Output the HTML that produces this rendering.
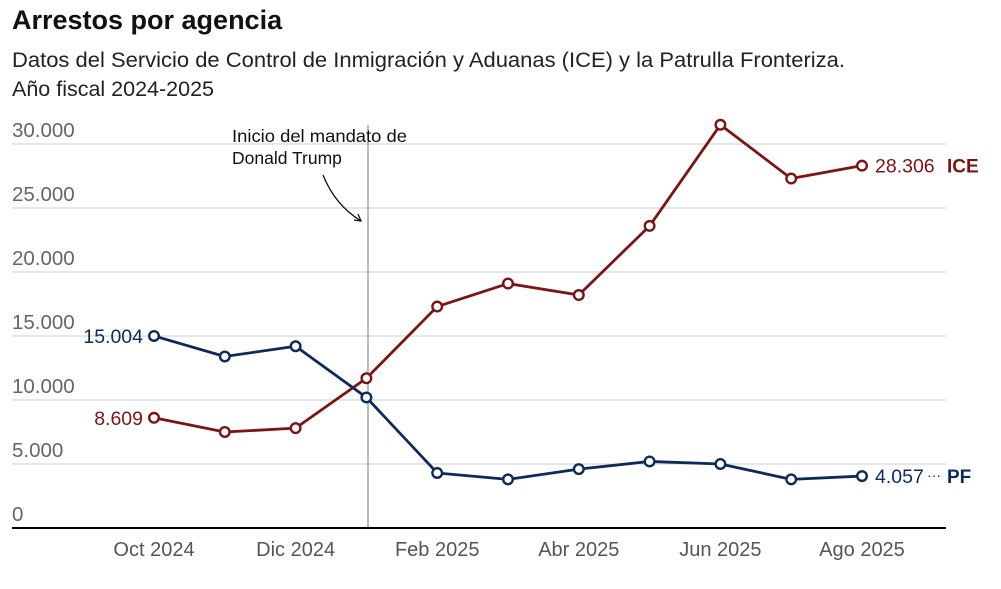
<!DOCTYPE html>
<html><head><meta charset="utf-8"><style>
body{margin:0;background:#fff;font-family:"Liberation Sans",sans-serif}
</style></head><body>
<svg width="1001" height="584" viewBox="0 0 1001 584" id="chart">
<text x="12" y="29" font-size="27" font-weight="bold" fill="#111">Arrestos por agencia</text>
<text x="12" y="67" font-size="21.5" fill="#222" textLength="833" lengthAdjust="spacingAndGlyphs">Datos del Servicio de Control de Inmigración y Aduanas (ICE) y la Patrulla Fronteriza.</text>
<text x="12" y="96" font-size="21.5" fill="#222">Año fiscal 2024-2025</text>
<g id="grid"></g>
<line x1="368" y1="125" x2="368" y2="528" stroke="#777" stroke-width="1"/>
<text x="232" y="142" font-size="17.5" fill="#111" textLength="175" lengthAdjust="spacingAndGlyphs">Inicio del mandato de</text>
<text x="232" y="164" font-size="17.5" fill="#111">Donald Trump</text>
<path d="M323,175 Q335,205 361,221 M354,220 L361,221 L358,214" fill="none" stroke="#111" stroke-width="1.3"/>
<g id="series"></g>
<line x1="12" y1="528" x2="946" y2="528" stroke="#000" stroke-width="2"/>
</svg>
<script>
const months=["Oct 2024","Nov 2024","Dic 2024","Ene 2025","Feb 2025","Mar 2025","Abr 2025","May 2025","Jun 2025","Jul 2025","Ago 2025"];
const iceValues=[8609,7500,7800,11700,17300,19100,18200,23600,31500,27300,28306];
const pfValues=[15004,13400,14200,10200,4300,3800,4600,5200,5000,3800,4057];
const yTicks=[0,5000,10000,15000,20000,25000,30000];
const yTickLabels=["0","5.000","10.000","15.000","20.000","25.000","30.000"];
const xTickLabels=["Oct 2024","Dic 2024","Feb 2025","Abr 2025","Jun 2025","Ago 2025"];
const NS="http://www.w3.org/2000/svg";
const x=i=>154+i*70.8;
const y=v=>528-v*(64/5000);
function mk(tag,attrs,parent,text){const e=document.createElementNS(NS,tag);for(const k in attrs)e.setAttribute(k,attrs[k]);if(text!=null)e.textContent=text;parent.appendChild(e);return e;}
const grid=document.getElementById('grid');
yTicks.forEach((t,i)=>{
 if(t>0){const l=mk('line',{x1:12,x2:946,y1:y(t),y2:y(t),stroke:'#ccc','stroke-width':1},grid);
 
 }
 const tx=mk('text',{x:12,y:y(t)-7,'font-size':20.5,fill:'#666'},grid,yTickLabels[i]);
 
 
});
xTickLabels.forEach(lbl=>{
 const i=months.indexOf(lbl);
 const tx=mk('text',{x:x(i),y:556,'font-size':20,fill:'#555','text-anchor':'middle'},grid,lbl);
 
 
});
const s=document.getElementById('series');
function series(vals,color,name){
 const p=mk('polyline',{points:vals.map((v,i)=>x(i)+','+y(v)).join(' '),fill:'none',stroke:color,'stroke-width':2.8,'stroke-linejoin':'round'},s);
 
 
 vals.forEach((v,i)=>{const c=mk('circle',{cx:x(i),cy:y(v),r:4.8,fill:'#fff',stroke:color,'stroke-width':2.4},s);
 
 });
}
series(iceValues,'#7d1414','ice');
series(pfValues,'#0d2a5c','pf');
const fmt=v=>v.toLocaleString('de-DE');
const n=months.length-1;
let t;
t=mk('text',{x:143,y:y(pfValues[0])+7,'font-size':19.5,fill:'#0d2a5c','text-anchor':'end'},s,fmt(pfValues[0]));


t=mk('text',{x:143,y:y(iceValues[0])+7,'font-size':19.5,fill:'#7d1414','text-anchor':'end'},s,fmt(iceValues[0]));


t=mk('text',{x:x(n)+13,y:y(iceValues[n])+7,'font-size':19.5,fill:'#7d1414'},s,fmt(iceValues[n]));


t=mk('text',{x:947,y:y(iceValues[n])+7,'font-size':19,'font-weight':'bold',fill:'#7d1414'},s,'ICE');


t=mk('text',{x:x(n)+13,y:y(pfValues[n])+7,'font-size':19.5,fill:'#0d2a5c'},s,fmt(pfValues[n]));


t=mk('text',{x:927,y:y(pfValues[n])+4,'font-size':14,fill:'#0d2a5c'},s,'···');


t=mk('text',{x:947,y:y(pfValues[n])+7,'font-size':19,'font-weight':'bold',fill:'#0d2a5c'},s,'PF');


</script>
</body></html>
